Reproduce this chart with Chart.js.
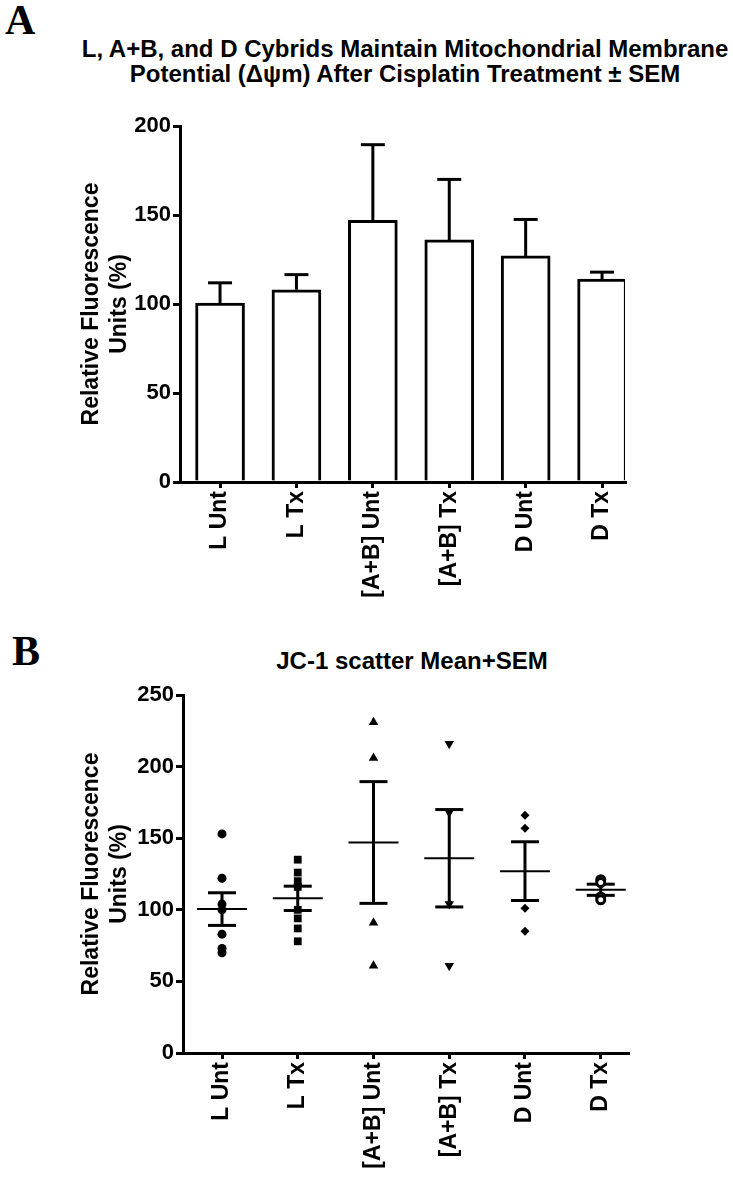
<!DOCTYPE html>
<html>
<head>
<meta charset="utf-8">
<script src="https://cdn.jsdelivr.net/npm/chart.js@4.4.1/dist/chart.umd.min.js"></script>
<style>
  body { margin: 0; width: 733px; height: 1183px; position: relative; background: #fff; overflow: hidden; }
  .letter { position: absolute; font-family: "Liberation Serif", serif; font-weight: bold; font-size: 42px; line-height: 1; color: #000; }
  .title { position: absolute; font-family: "Liberation Sans Narrow", "Arial Narrow", sans-serif; font-weight: bold; font-size: 24px; line-height: 25px; text-align: center; color: #000; }
  .box { position: absolute; left: 0; width: 733px; }
</style>
</head>
<body>
<div class="letter" style="left:5px; top:-1px;">A</div>
<div class="title" style="left:0; width:810px; top:36px;">L, A+B, and D Cybrids Maintain Mitochondrial Membrane<br>Potential (&Delta;&psi;m) After Cisplatin Treatment &plusmn; SEM</div>
<div class="box" style="top:0; height:620px;"><canvas id="chartA"></canvas></div>

<div class="letter" style="left:12px; top:630px;">B</div>
<div class="title" style="left:0; width:824px; top:648px;">JC-1 scatter Mean+SEM</div>
<div class="box" style="top:600px; height:583px;"><canvas id="chartB"></canvas></div>

<script>
// groups and summary values
const groups = ['L Unt', 'L Tx', '[A+B] Unt', '[A+B] Tx', 'D Unt', 'D Tx'];
const means = [100.5, 108, 147, 136, 127, 114];
const sems = [11.4, 8.5, 42.5, 34, 20.5, 3.9];

// individual points, panel B
const lUnt = [153, 122, 104, 100, 83, 73, 70];
const lTx = [135, 126, 120, 116, 100, 94, 87, 78];
const abUnt = [231, 206, 91, 61];
const abTx = [216, 168, 104, 61];
const dUnt = [166, 157, 101, 85];
const dTx = [121, 119, 109, 107];

const yTicksA = [0, 50, 100, 150, 200];
const yTicksB = [0, 50, 100, 150, 200, 250];

const yTickFont = { family: 'Liberation Sans, Arial, sans-serif', weight: 'bold', size: 22 };
const xTickFont = { family: 'Liberation Sans, Arial, sans-serif', weight: 'bold', size: 23 };
const titleFont = { family: 'Liberation Sans, Arial, sans-serif', weight: 'bold', size: 23, lineHeight: 1.25 };

function xAxis(min, max, height) {
  return {
    type: 'linear',
    min: min,
    max: max,
    offset: false,
    afterBuildTicks: s => { s.ticks = groups.map((g, i) => ({ value: i })); },
    afterFit: s => { s.height = height; },
    ticks: {
      autoSkip: false,
      minRotation: 90,
      maxRotation: 90,
      padding: 3,
      color: '#000',
      font: xTickFont,
      callback: v => groups[v]
    },
    grid: { offset: false, drawOnChartArea: false, color: '#000', lineWidth: 3, tickLength: 6 },
    border: { display: true, color: '#000', width: 3 }
  };
}

function yAxis(max, tickVals, width) {
  return {
    min: 0,
    max: max,
    afterBuildTicks: s => { s.ticks = tickVals.map(v => ({ value: v })); },
    afterFit: s => { s.width = width; },
    ticks: { color: '#000', font: yTickFont, padding: 2 },
    grid: { drawOnChartArea: false, color: '#000', lineWidth: 3, tickLength: 7 },
    border: { display: true, color: '#000', width: 3 },
    title: {
      display: true,
      text: ['Relative Fluorescence', 'Units (%)'],
      color: '#000',
      font: titleFont,
      padding: { top: 77, bottom: 0 }
    }
  };
}

// stems as line segments broken by gaps
function stems(lowFn, highFn) {
  const out = [];
  groups.forEach((g, i) => {
    out.push({ x: i, y: lowFn(i) });
    out.push({ x: i, y: highFn(i) });
    out.push({ x: i, y: null });
  });
  return out;
}

const commonOpts = {
  responsive: true,
  maintainAspectRatio: false,
  animation: false,
  events: [],
  plugins: { legend: { display: false }, tooltip: { enabled: false } }
};

// ---- panel A: bars + upward SEM
new Chart(document.getElementById('chartA'), {
  type: 'bar',
  data: {
    datasets: [
      {
        type: 'line',
        data: stems(i => means[i], i => means[i] + sems[i]),
        borderColor: '#000',
        borderWidth: 3,
        pointRadius: 0,
        spanGaps: false
      },
      {
        type: 'line',
        data: groups.map((g, i) => ({ x: i, y: means[i] + sems[i] })),
        showLine: false,
        pointStyle: 'line',
        pointRadius: 12,
        pointBorderWidth: 3,
        borderColor: '#000'
      },
      {
        type: 'bar',
        data: groups.map((g, i) => ({ x: i, y: means[i] })),
        backgroundColor: '#fff',
        borderColor: '#000',
        borderWidth: 3,
        borderSkipped: 'start',
        barThickness: 49
      }
    ]
  },
  options: Object.assign({}, commonOpts, {
    layout: { padding: { top: 126, right: 108, left: 0, bottom: 0 } },
    scales: {
      x: xAxis(-0.524, 5.30, 138),
      y: yAxis(200, yTicksA, 180)
    }
  })
});

// ---- panel B: scatter + mean and SEM
const pointSets = [lUnt, lTx, abUnt, abTx, dUnt, dTx];
const styles = [
  { pointStyle: 'circle', pointRadius: 4.5, backgroundColor: '#000', borderWidth: 0 },
  { pointStyle: 'rect', pointRadius: 5.5, backgroundColor: '#000', borderWidth: 0 },
  { pointStyle: 'triangle', pointRadius: 5.5, backgroundColor: '#000', borderWidth: 0 },
  { pointStyle: 'triangle', pointRotation: 180, pointRadius: 5.5, backgroundColor: '#000', borderWidth: 0 },
  { pointStyle: 'rectRot', pointRadius: 4.5, backgroundColor: '#000', borderWidth: 0 },
  { pointStyle: 'circle', pointRadius: 4, backgroundColor: '#fff', borderWidth: 3 }
];

const scatterSets = pointSets.map((vals, i) => Object.assign({
  type: 'scatter',
  data: vals.map(v => ({ x: i, y: v })),
  borderColor: '#000'
}, styles[i]));

new Chart(document.getElementById('chartB'), {
  type: 'scatter',
  data: {
    datasets: scatterSets.concat([
      {
        type: 'line',
        data: stems(i => means[i] - sems[i], i => means[i] + sems[i]),
        borderColor: '#000',
        borderWidth: 3,
        pointRadius: 0,
        spanGaps: false
      },
      {
        type: 'scatter',
        data: groups.flatMap((g, i) => [{ x: i, y: means[i] - sems[i] }, { x: i, y: means[i] + sems[i] }]),
        pointStyle: 'line',
        pointRadius: 14,
        borderWidth: 3,
        borderColor: '#000'
      },
      {
        type: 'scatter',
        data: groups.map((g, i) => ({ x: i, y: means[i] })),
        pointStyle: 'line',
        pointRadius: 25,
        borderWidth: 2,
        borderColor: '#000'
      }
    ])
  },
  options: Object.assign({}, commonOpts, {
    layout: { padding: { top: 95, right: 105, left: 0, bottom: 0 } },
    scales: {
      x: xAxis(-0.515, 5.36, 130),
      y: yAxis(250, yTicksB, 183)
    }
  })
});
</script>
</body>
</html>
